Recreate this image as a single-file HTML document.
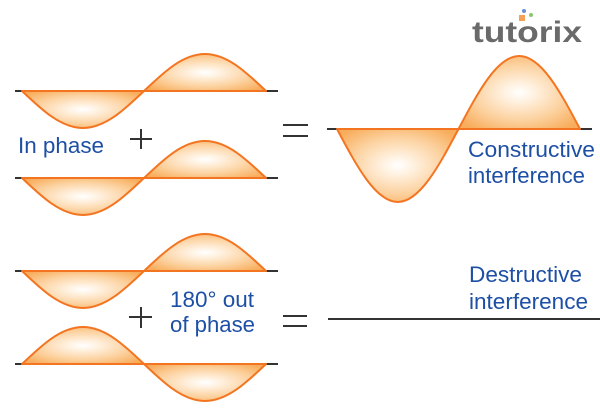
<!DOCTYPE html>
<html>
<head>
<meta charset="utf-8">
<style>
  html,body{margin:0;padding:0;background:#fff;}
  svg{display:block;}
  .t{font-family:"Liberation Sans",Arial,sans-serif;font-size:22px;fill:#1d4fa5;}
</style>
</head>
<body>
<svg width="600" height="408" viewBox="0 0 600 408" xmlns="http://www.w3.org/2000/svg">
  <defs>
    <radialGradient id="g" cx="0.5" cy="0.5" r="0.62">
      <stop offset="0" stop-color="#ffffff"/>
      <stop offset="0.18" stop-color="#fff3e4"/>
      <stop offset="0.6" stop-color="#fcd3a2"/>
      <stop offset="1" stop-color="#f8ad5c"/>
    </radialGradient>
  </defs>
  <rect width="600" height="408" fill="#fff"/>

  <!-- black stubs -->
  <g stroke="#333" stroke-width="2">
    <line x1="15" y1="91" x2="22" y2="91"/><line x1="266" y1="91" x2="278" y2="91"/>
    <line x1="15" y1="178" x2="22" y2="178"/><line x1="266" y1="178" x2="278" y2="178"/>
    <line x1="15" y1="271" x2="22" y2="271"/><line x1="266" y1="271" x2="278" y2="271"/>
    <line x1="15" y1="364" x2="22" y2="364"/><line x1="266" y1="364" x2="278" y2="364"/>
    <line x1="327" y1="129" x2="337" y2="129"/><line x1="580" y1="129" x2="592" y2="129"/>
    <!-- destructive flat line -->
    <line x1="328" y1="319" x2="600" y2="319"/>
    <!-- plus signs -->
    <line x1="130" y1="139" x2="152" y2="139"/><line x1="141" y1="129" x2="141" y2="149"/>
    <line x1="129" y1="317" x2="152" y2="317"/><line x1="141" y1="307" x2="141" y2="328"/>
    <!-- equals signs -->
    <line x1="283" y1="125" x2="308" y2="125"/><line x1="283" y1="136" x2="308" y2="136"/>
    <line x1="283" y1="316" x2="307" y2="316"/><line x1="283" y1="326" x2="307" y2="326"/>
  </g>

  <!-- waves -->
  <g fill="url(#g)" stroke="#f37521" stroke-width="2" stroke-linejoin="round">
    <!-- wave 1 -->
    <path d="M22,91 C41.9,109.96 60.9,128 83,128 C105.1,128 124.1,109.96 144,91 Z"/>
    <path d="M144,91 C163.9,72.04 182.9,54 205,54 C227.1,54 246.1,72.04 266,91 Z"/>
    <!-- wave 2 -->
    <path d="M22,178 C41.9,196.96 60.9,215 83,215 C105.1,215 124.1,196.96 144,178 Z"/>
    <path d="M144,178 C163.9,159.04 182.9,141 205,141 C227.1,141 246.1,159.04 266,178 Z"/>
    <!-- wave 3 -->
    <path d="M22,271 C41.9,289.96 60.9,308 83,308 C105.1,308 124.1,289.96 144,271 Z"/>
    <path d="M144,271 C163.9,252.04 182.9,234 205,234 C227.1,234 246.1,252.04 266,271 Z"/>
    <!-- wave 4 -->
    <path d="M22,364 C41.9,345.04 60.9,327 83,327 C105.1,327 124.1,345.04 144,364 Z"/>
    <path d="M144,364 C163.9,382.96 182.9,401 205,401 C227.1,401 246.1,382.96 266,364 Z"/>
    <!-- big constructive wave -->
    <path d="M337,129 C356.8,166.4 375.8,202 397.75,202 C419.7,202 438.7,166.4 458.5,129 Z"/>
    <path d="M458.5,129 C478.3,91.6 497.3,56 519.25,56 C541.2,56 560.2,91.6 580,129 Z"/>
  </g>

  <!-- labels -->
  <text class="t" x="18" y="153" textLength="86" lengthAdjust="spacingAndGlyphs">In phase</text>
  <text class="t" x="468" y="157" textLength="127" lengthAdjust="spacingAndGlyphs">Constructive</text>
  <text class="t" x="468" y="183" textLength="117" lengthAdjust="spacingAndGlyphs">interference</text>
  <text class="t" x="469" y="282" textLength="113" lengthAdjust="spacingAndGlyphs">Destructive</text>
  <text class="t" x="469" y="309" textLength="119" lengthAdjust="spacingAndGlyphs">interference</text>
  <text class="t" x="170" y="307" textLength="84" lengthAdjust="spacingAndGlyphs">180° out</text>
  <text class="t" x="170" y="332" textLength="85" lengthAdjust="spacingAndGlyphs">of phase</text>

  <!-- logo -->
  <text x="472" y="42" font-family="'Liberation Sans',Arial,sans-serif" font-weight="bold" font-size="30" fill="#6a6a6a" textLength="110" lengthAdjust="spacingAndGlyphs">tutorix</text>
  <rect x="519" y="15" width="6" height="6" fill="#f5a15a"/>
  <circle cx="524" cy="11" r="2" fill="#6b8fd6"/>
  <circle cx="531" cy="15" r="2" fill="#8cc66a"/>
</svg>
</body>
</html>
